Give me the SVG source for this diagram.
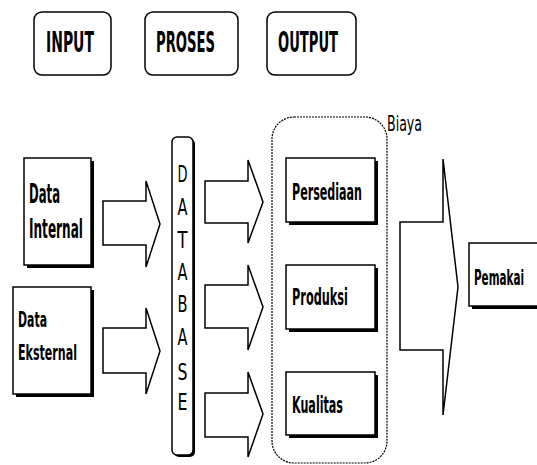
<svg xmlns="http://www.w3.org/2000/svg" width="537" height="465" viewBox="0 0 537 465">
<style>
.box{fill:#fff;stroke:#000;stroke-width:1.5}
.sh{fill:#000}
.arr{fill:#fff;stroke:#000;stroke-width:1.5;stroke-linejoin:miter}
.hd{font-family:"DejaVu Sans",sans-serif;font-weight:bold;fill:#000}
.lb{font-family:"DejaVu Sans",sans-serif;font-weight:bold;fill:#000}
.db{font-family:"DejaVu Sans",sans-serif;fill:#000;text-anchor:middle}
</style>
<rect width="537" height="465" fill="#fff"/>
<g id="input">
<rect x="34" y="12" width="77" height="63" rx="8" class="box" stroke-width="2"/>
<text x="46" y="52" class="hd" font-size="28" textLength="48" lengthAdjust="spacingAndGlyphs">INPUT</text>
</g>
<g id="proses">
<rect x="145" y="12" width="93" height="63" rx="8" class="box" stroke-width="2"/>
<text x="156" y="52" class="hd" font-size="28" textLength="59" lengthAdjust="spacingAndGlyphs">PROSES</text>
</g>
<g id="output">
<rect x="267" y="12" width="89" height="63" rx="8" class="box" stroke-width="2"/>
<text x="278" y="52" class="hd" font-size="28" textLength="60" lengthAdjust="spacingAndGlyphs">OUTPUT</text>
</g>
<g id="container">
<rect x="272" y="117" width="115" height="346" rx="22" fill="none" stroke="#000" stroke-width="1.2" stroke-dasharray="2 1"/>
<text x="387" y="131" font-family="DejaVu Sans, sans-serif" font-size="22" textLength="35" lengthAdjust="spacingAndGlyphs">Biaya</text>
</g>
<g id="data-internal">
<rect x="27" y="161" width="67" height="107" class="sh"/>
<rect x="24" y="158" width="67" height="107" class="box"/>
<text x="29" y="203" class="lb" font-size="26" textLength="31" lengthAdjust="spacingAndGlyphs">Data</text>
<text x="29" y="238" class="lb" font-size="26" textLength="54" lengthAdjust="spacingAndGlyphs">Internal</text>
</g>
<g id="data-eksternal">
<rect x="16" y="290" width="78" height="107" class="sh"/>
<rect x="13" y="287" width="78" height="107" class="box"/>
<text x="18" y="327" class="lb" font-size="21" textLength="29" lengthAdjust="spacingAndGlyphs">Data</text>
<text x="18" y="360" class="lb" font-size="21" textLength="59" lengthAdjust="spacingAndGlyphs">Eksternal</text>
</g>
<g id="database">
<rect x="174" y="139" width="21" height="318" rx="5" class="sh"/>
<rect x="172" y="137" width="21" height="318" rx="5" class="box"/>
<g class="db" font-size="23">
<text x="182.5" y="182" textLength="10" lengthAdjust="spacingAndGlyphs">D</text>
<text x="182.5" y="215" textLength="10" lengthAdjust="spacingAndGlyphs">A</text>
<text x="182.5" y="248" textLength="10" lengthAdjust="spacingAndGlyphs">T</text>
<text x="182.5" y="280" textLength="10" lengthAdjust="spacingAndGlyphs">A</text>
<text x="182.5" y="312" textLength="10" lengthAdjust="spacingAndGlyphs">B</text>
<text x="182.5" y="345" textLength="10" lengthAdjust="spacingAndGlyphs">A</text>
<text x="182.5" y="380" textLength="10" lengthAdjust="spacingAndGlyphs">S</text>
<text x="182.5" y="410" textLength="10" lengthAdjust="spacingAndGlyphs">E</text>
</g>
</g>
<g id="persediaan">
<rect x="289" y="161" width="89" height="64" class="sh"/>
<rect x="286" y="158" width="89" height="64" class="box"/>
<text x="292" y="200" class="lb" font-size="23" textLength="70" lengthAdjust="spacingAndGlyphs">Persediaan</text>
</g>
<g id="produksi">
<rect x="289" y="268" width="89" height="64" class="sh"/>
<rect x="286" y="265" width="89" height="64" class="box"/>
<text x="292" y="305" class="lb" font-size="23" textLength="56" lengthAdjust="spacingAndGlyphs">Produksi</text>
</g>
<g id="kualitas">
<rect x="289" y="375" width="89" height="63" class="sh"/>
<rect x="286" y="372" width="89" height="63" class="box"/>
<text x="292" y="413" class="lb" font-size="23" textLength="51" lengthAdjust="spacingAndGlyphs">Kualitas</text>
</g>
<g id="pemakai">
<rect x="472" y="246" width="75" height="63" class="sh"/>
<rect x="469" y="243" width="75" height="63" class="box"/>
<text x="474" y="285" class="lb" font-size="22" textLength="50" lengthAdjust="spacingAndGlyphs">Pemakai</text>
</g>
<g id="connectors">
<polygon class="arr" points="103,201 146,201 146,181 160,224 146,267 146,245 103,245"/>
<polygon class="arr" points="103,328 146,328 146,308 160,351 146,394 146,373 103,373"/>
<polygon class="arr" points="205,181 248,181 248,160 263,202 248,243 248,223 205,223"/>
<polygon class="arr" points="205,285 248,285 248,265 263,307 248,350 248,328 205,328"/>
<polygon class="arr" points="205,393 248,393 248,372 263,414 248,457 248,437 205,437"/>
<polygon class="arr" points="400,222 443,222 443,159 458,287 443,415 443,350 400,350"/>
</g>
</svg>
